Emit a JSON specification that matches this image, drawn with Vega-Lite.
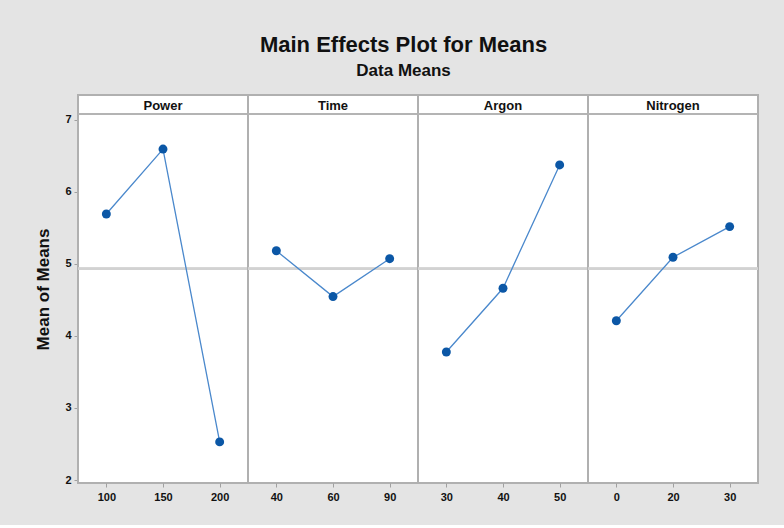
{
  "$schema": "https://vega.github.io/schema/vega-lite/v6.json",
  "background": "#e4e4e4",
  "padding": {"left": 34, "top": 34, "right": 27, "bottom": 22},
  "bounds": "flush",
  "title": {
    "text": "Main Effects Plot for Means",
    "subtitle": "Data Means",
    "anchor": "middle",
    "frame": "bounds",
    "dx": 6,
    "font": "Liberation Sans",
    "fontSize": 22,
    "fontWeight": "bold",
    "color": "#111111",
    "subtitleFont": "Liberation Sans",
    "subtitleFontSize": 17,
    "subtitleFontWeight": "bold",
    "subtitleColor": "#111111",
    "subtitlePadding": 6,
    "offset": 14
  },
  "data": {
    "values": [
      {"Factor": "Power", "Level": 100, "order": 1, "Mean": 5.69},
      {"Factor": "Power", "Level": 150, "order": 2, "Mean": 6.59},
      {"Factor": "Power", "Level": 200, "order": 3, "Mean": 2.53},
      {"Factor": "Time", "Level": 40, "order": 1, "Mean": 5.18},
      {"Factor": "Time", "Level": 60, "order": 2, "Mean": 4.545},
      {"Factor": "Time", "Level": 90, "order": 3, "Mean": 5.07},
      {"Factor": "Argon", "Level": 30, "order": 1, "Mean": 3.776},
      {"Factor": "Argon", "Level": 40, "order": 2, "Mean": 4.66},
      {"Factor": "Argon", "Level": 50, "order": 3, "Mean": 6.37},
      {"Factor": "Nitrogen", "Level": 0, "order": 1, "Mean": 4.21},
      {"Factor": "Nitrogen", "Level": 20, "order": 2, "Mean": 5.09},
      {"Factor": "Nitrogen", "Level": 30, "order": 3, "Mean": 5.515}
    ]
  },
  "facet": {
    "column": {
      "field": "Factor",
      "type": "nominal",
      "sort": ["Power", "Time", "Argon", "Nitrogen"],
      "header": {"labels": false, "title": null}
    }
  },
  "spacing": 0,
  "resolve": {"scale": {"x": "independent"}, "axis": {"x": "independent"}},
  "spec": {
    "width": 170,
    "height": 388,
    "encoding": {
      "x": {
        "field": "Level",
        "type": "ordinal",
        "sort": "ascending",
        "scale": {"type": "point", "padding": 0.5},
        "axis": {"title": null, "labelAngle": 0}
      }
    },
    "layer": [
      {
        "mark": {"type": "rule", "color": "#d2d2d2", "strokeWidth": 2.5},
        "encoding": {"x": null, "y": {"datum": 4.93, "type": "quantitative"}}
      },
      {
        "mark": {"type": "rule", "color": "#b4b4b4", "strokeWidth": 2},
        "encoding": {"x": null, "y": {"datum": 7.076, "type": "quantitative"}}
      },
      {
        "mark": {"type": "line", "color": "#4a88cc", "strokeWidth": 1.3},
        "encoding": {
          "y": {
            "field": "Mean",
            "type": "quantitative",
            "scale": {"domain": [1.96, 7.34], "nice": false, "zero": false},
            "axis": {"values": [2, 3, 4, 5, 6, 7], "format": "d", "title": "Mean of Means"}
          }
        }
      },
      {
        "mark": {"type": "point", "filled": true, "opacity": 1, "color": "#0b57a6", "size": 80},
        "encoding": {"y": {"field": "Mean", "type": "quantitative"}}
      },
      {
        "transform": [{"filter": "datum.order == 2"}],
        "mark": {"type": "text", "font": "Liberation Sans", "fontSize": 13, "fontWeight": "bold", "color": "#111111", "baseline": "middle", "dy": 1},
        "encoding": {
          "y": {"datum": 7.208, "type": "quantitative"},
          "text": {"field": "Factor", "type": "nominal"}
        }
      }
    ]
  },
  "config": {
    "view": {"stroke": "#b0b0b0", "strokeWidth": 2, "fill": "#ffffff"},
    "axis": {
      "domain": false,
      "grid": false,
      "ticks": true,
      "tickColor": "#a0a0a0",
      "tickSize": 4,
      "labelFont": "Liberation Sans",
      "labelFontSize": 11,
      "labelFontWeight": "bold",
      "labelColor": "#111111",
      "labelPadding": 4,
      "titleFont": "Liberation Sans",
      "titleFontSize": 17,
      "titleFontWeight": "bold",
      "titleColor": "#111111"
    },
    "axisY": {"titlePadding": 12, "labelPadding": 3}
  }
}
